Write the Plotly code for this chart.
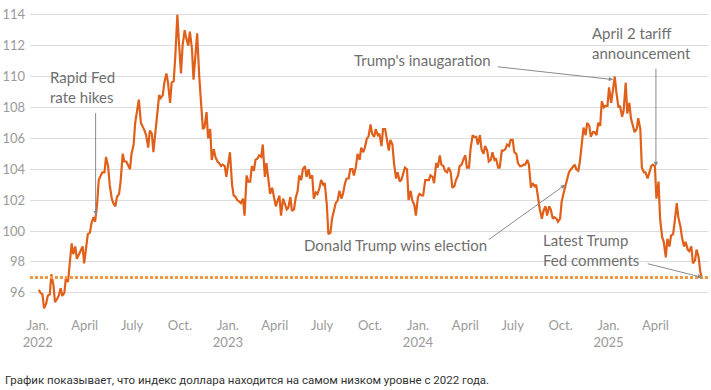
import pandas as pd
import plotly.graph_objects as go

Y2022 = [
    96.2, 96.0, 95.9, 95.0, 95.3, 95.8, 95.9, 97.2, 96.5, 95.4,
    95.6, 95.8, 96.3, 95.8, 96.0, 97.0, 96.7, 97.8, 99.2, 98.5,
    99.0, 98.2, 98.5, 98.8, 99.0, 97.9, 99.0, 99.8, 99.9, 100.5,
    100.9, 100.6, 101.8, 103.3, 103.6, 103.8, 103.8, 104.8, 104.2, 103.0,
    102.1, 101.8, 101.6, 102.2, 102.4, 103.2, 105.0, 104.5, 104.5, 104.3,
    104.0, 105.0, 105.6, 107.0, 108.0, 108.5, 107.0, 106.8, 106.5, 106.2,
    105.4, 106.5, 106.3, 105.1, 106.5, 107.5, 108.8, 108.6, 108.8, 109.6,
    110.2, 109.6, 108.3, 109.6, 109.7, 111.3, 114.0, 112.2, 110.2, 112.0,
    113.0, 112.5, 112.0, 112.9, 111.8, 109.8, 111.5, 112.8, 110.0, 108.2,
    106.6, 106.7, 107.7, 106.0, 106.6, 104.6, 105.3, 104.8, 104.5, 104.4,
    104.2, 104.3, 104.2, 103.5,
]
Y2023 = [
    104.4, 105.1, 103.0, 102.3, 102.2, 102.0, 101.9, 101.8, 102.1, 101.0,
    103.6, 103.2, 103.2, 104.2, 103.9, 104.6, 104.7, 104.9, 104.8, 105.6,
    103.5, 104.4, 103.3, 102.4, 102.8, 102.2, 101.6, 101.9, 102.3, 101.0,
    102.1, 101.8, 101.4, 101.5, 102.2, 101.3, 101.4, 102.1, 102.6, 103.6,
    103.3, 104.0, 104.2, 103.5, 104.0, 103.4, 103.6, 102.1, 102.5, 102.4,
    102.8, 103.3, 103.0, 103.1, 101.7, 99.8, 99.9, 100.8, 101.3, 101.8,
    102.0, 102.6, 102.1, 102.4, 103.1, 103.4, 103.4, 104.0, 104.0, 103.6,
    104.2, 105.0, 104.6, 105.4, 105.1, 105.4, 106.0, 106.1, 106.9, 106.3,
    106.1, 106.6, 106.2, 106.3, 105.5, 106.6, 106.6, 106.1, 105.2, 105.9,
    105.6, 104.4, 103.4, 103.8, 103.2, 103.3, 103.7, 104.1, 104.0, 102.0,
    102.6, 102.0, 101.7, 101.0,
]
Y2024 = [
    102.2, 102.4, 102.3, 102.3, 103.3, 103.3, 103.3, 103.6, 103.5, 103.1,
    104.4, 104.1, 104.9, 104.3, 104.2, 103.9, 103.8, 104.1, 103.8, 102.8,
    102.9, 103.3, 103.6, 104.2, 104.3, 104.6, 104.9, 104.1, 104.1, 105.3,
    106.2, 106.1, 106.1, 105.6, 106.2, 105.3, 105.0, 105.5, 105.2, 104.5,
    104.6, 105.1, 104.6, 104.7, 104.1, 104.1, 105.2, 105.2, 105.3, 105.6,
    105.5, 105.9, 105.9, 105.1, 105.0, 104.4, 104.2, 104.2, 104.3, 104.3,
    104.6, 104.3, 102.8, 103.1, 102.9, 103.0, 101.9, 101.4, 100.8, 101.3,
    101.6, 101.0, 101.6, 101.4, 100.8, 100.9, 100.8, 100.6, 100.8, 101.9,
    102.5, 102.9, 103.3, 103.8, 104.0, 104.1, 104.3, 104.0, 103.9, 104.5,
    105.6, 106.7, 106.2, 107.0, 106.8, 106.1, 106.4, 106.4, 106.2, 107.0,
    106.8, 108.4, 108.0, 108.1, 108.1, 109.3,
]
Y2025 = [
    108.3, 109.2, 110.0, 109.0, 108.0, 108.1, 107.4, 107.8, 109.6, 107.6,
    108.3, 107.3, 106.7, 106.4, 106.6, 107.3, 106.6, 104.1, 103.8, 103.8,
    103.4, 103.8, 104.2, 104.3, 104.2, 102.1, 103.2, 100.8, 99.6, 99.3,
    98.3, 99.5, 99.0, 99.7, 99.8, 100.6, 101.8, 100.9, 100.3, 99.6,
    99.0, 99.3, 98.8, 98.7, 99.0, 97.9, 98.1, 98.8, 98.3, 97.4,
    96.9,
]
VALUES = Y2022 + Y2023 + Y2024 + Y2025
LOW_LEVEL = 97.0

_days = pd.date_range("2022-01-03", "2025-06-30", freq="D")
DATES = [d for d in _days if d.weekday() in (0, 3)][: len(VALUES)]

TICK_DATES = ["2022-01-01", "2022-04-01", "2022-07-01", "2022-10-01",
              "2023-01-01", "2023-04-01", "2023-07-01", "2023-10-01",
              "2024-01-01", "2024-04-01", "2024-07-01", "2024-10-01",
              "2025-01-01", "2025-04-01"]
TICK_TEXT = ["Jan.<br>2022", "April", "July", "Oct.",
             "Jan.<br>2023", "April", "July", "Oct.",
             "Jan.<br>2024", "April", "July", "Oct.",
             "Jan.<br>2025", "April"]
Y_TICKS = [96, 98, 100, 102, 104, 106, 108, 110, 112, 114]

CAPTION = "График показывает, что индекс доллара находится на самом низком уровне с 2022 года."

LINE = "#e0601a"
DOT = "#f09a45"
GRAY_TXT = "#6f6f6f"
ARROW = "#8a8a8a"
FONT = "Lato"

fig = go.Figure()
fig.add_trace(go.Scatter(x=DATES, y=VALUES, mode="lines",
                         line=dict(color=LINE, width=2.2), hoverinfo="skip"))

fig.add_shape(type="line", xref="paper", x0=0, x1=1, yref="y",
              y0=LOW_LEVEL, y1=LOW_LEVEL,
              line=dict(color=DOT, width=3, dash="3px,2px"), layer="above")

def label(x, y, text):
    fig.add_annotation(x=x, y=y, xref="x", yref="y", text=text, showarrow=False,
                       xanchor="left", yanchor="middle", align="left",
                       font=dict(family=FONT, size=15, color=GRAY_TXT))

def arrow(x, y, ax, ay):
    fig.add_annotation(x=x, y=y, xref="x", yref="y", text="", showarrow=True,
                       ax=ax, ay=ay, axref="pixel", ayref="pixel",
                       arrowhead=2, arrowsize=0.9, arrowwidth=1,
                       arrowcolor=ARROW, standoff=0, startstandoff=0)

label("2022-01-20", 109.3, "Rapid Fed<br>rate hikes")
arrow("2022-04-22", 101.0, 0, -104)

label("2023-08-28", 111.05, "Trump's inaugaration")
arrow("2025-01-10", 109.8, -117, -13)

label("2024-11-26", 112.2, "April 2 tariff<br>announcement")
arrow("2025-04-02", 104.2, 0, -99)

label("2023-05-23", 99.1, "Donald Trump wins election")
arrow("2024-10-10", 103.0, -78, 56)

label("2024-08-24", 98.8, "Latest Trump<br>Fed comments")
arrow("2025-06-30", LOW_LEVEL, -56, -14)

fig.add_annotation(x=0, y=-0.207, xref="paper", yref="paper", xshift=-27,
                   text=CAPTION, showarrow=False, xanchor="left", yanchor="middle",
                   font=dict(family="Roboto", size=11.5, color="#333333"))

fig.update_layout(
    width=711, height=390,
    margin=dict(l=30, r=3, t=7, b=74),
    paper_bgcolor="white", plot_bgcolor="white",
    showlegend=False,
    font=dict(family=FONT, size=13, color="#9a9a9a"),
    xaxis=dict(range=["2021-12-17", "2025-07-11"], tickvals=TICK_DATES,
               ticktext=TICK_TEXT, showgrid=False, zeroline=False,
               showline=False, ticks="", tickfont=dict(size=13, color="#9a9a9a")),
    yaxis=dict(range=[94.5, 114.5], tickvals=Y_TICKS, showgrid=True,
               gridcolor="#dcdcdc", gridwidth=1, zeroline=False, showline=False,
               ticks="", ticklabelstandoff=4,
               tickfont=dict(size=13, color="#9a9a9a")),
)

fig.write_html("out.html", config={"displayModeBar": False},
               post_script="document.body.style.margin='0px';")
